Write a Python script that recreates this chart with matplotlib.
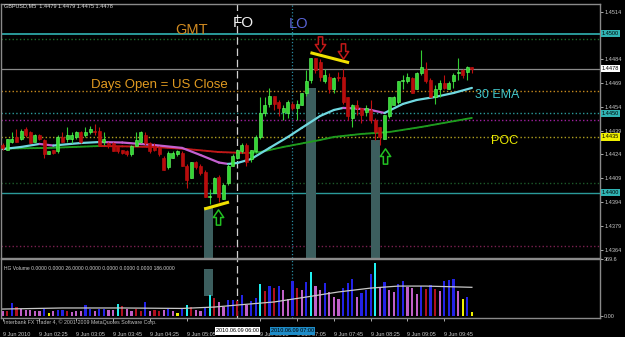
import matplotlib
matplotlib.use("Agg")
import matplotlib.pyplot as plt
from matplotlib.path import Path
from matplotlib.patches import Rectangle
from matplotlib.collections import LineCollection
import numpy as np

# GBPUSD M5, 9 Jun 2010, bars 01:45 .. 10:15
opens = [1.4430, 1.4427, 1.4432, 1.4435, 1.4434, 1.4440, 1.4438, 1.4432, 1.4436, 1.4433,
         1.4424, 1.4427, 1.4426, 1.4435, 1.4434, 1.4434, 1.4435, 1.4438, 1.4436, 1.4438,
         1.4439, 1.4439, 1.4432, 1.4431, 1.4431, 1.4429, 1.4427, 1.4426, 1.4424, 1.4429,
         1.4432, 1.4436, 1.4431, 1.4429, 1.4428, 1.4422, 1.4416, 1.4422, 1.4424, 1.4425,
         1.4417, 1.4409, 1.4419, 1.4417, 1.4413, 1.4397, 1.4400, 1.4410, 1.4396, 1.4406,
         1.4417, 1.4422, 1.4426, 1.4430, 1.4421, 1.4426, 1.4435, 1.4450, 1.4456, 1.4461,
         1.4457, 1.4451, 1.4450, 1.4456, 1.4453, 1.4455, 1.4463, 1.4471, 1.4485, 1.4482,
         1.4470, 1.4473, 1.4465, 1.4473, 1.4473, 1.4460, 1.4447, 1.4455, 1.4453, 1.4451,
         1.4452, 1.4446, 1.4441, 1.4434, 1.4448, 1.4455, 1.4457, 1.4470, 1.4470, 1.4472,
         1.4465, 1.4475, 1.4478, 1.4471, 1.4460, 1.4465, 1.4469, 1.4465, 1.4470, 1.4475,
         1.4477, 1.4476, 1.4479]
highs = [1.4431, 1.4434, 1.4438, 1.4440, 1.4440, 1.4441, 1.4439, 1.4437, 1.4437, 1.4434,
         1.4426, 1.4427, 1.4436, 1.4438, 1.4441, 1.4438, 1.4439, 1.4439, 1.4441, 1.4442,
         1.4443, 1.4441, 1.4438, 1.4432, 1.4432, 1.4429, 1.4427, 1.4427, 1.4430, 1.4438,
         1.4439, 1.4438, 1.4432, 1.4431, 1.4429, 1.4423, 1.4426, 1.4426, 1.4427, 1.4426,
         1.4418, 1.4419, 1.4420, 1.4418, 1.4414, 1.4402, 1.4410, 1.4411, 1.4406, 1.4418,
         1.4424, 1.4427, 1.4431, 1.4431, 1.4427, 1.4436, 1.4460, 1.4460, 1.4466, 1.4461,
         1.4458, 1.4455, 1.4458, 1.4457, 1.4458, 1.4463, 1.4477, 1.4485, 1.4485, 1.4484,
         1.4478, 1.4475, 1.4473, 1.4476, 1.4478, 1.4460, 1.4456, 1.4458, 1.4453, 1.4455,
         1.4458, 1.4447, 1.4441, 1.4449, 1.4460, 1.4461, 1.4470, 1.4474, 1.4475, 1.4473,
         1.4476, 1.4490, 1.4482, 1.4472, 1.4468, 1.4471, 1.4474, 1.4470, 1.4475, 1.4485,
         1.4478, 1.4480, 1.4479]
lows = [1.4427, 1.4427, 1.4431, 1.4432, 1.4433, 1.4435, 1.4431, 1.4432, 1.4433, 1.4422,
        1.4424, 1.4424, 1.4425, 1.4432, 1.4432, 1.4431, 1.4434, 1.4431, 1.4435, 1.4437,
        1.4436, 1.4429, 1.4430, 1.4428, 1.4426, 1.4425, 1.4424, 1.4423, 1.4423, 1.4429,
        1.4431, 1.4430, 1.4425, 1.4426, 1.4423, 1.4414, 1.4415, 1.4422, 1.4423, 1.4417,
        1.4403, 1.4409, 1.4415, 1.4411, 1.4397, 1.4393, 1.4400, 1.4394, 1.4396, 1.4405,
        1.4417, 1.4421, 1.4425, 1.4417, 1.4419, 1.4425, 1.4434, 1.4448, 1.4454, 1.4452,
        1.4448, 1.4446, 1.4447, 1.4452, 1.4446, 1.4455, 1.4461, 1.4469, 1.4475, 1.4470,
        1.4469, 1.4463, 1.4463, 1.4470, 1.4456, 1.4446, 1.4441, 1.4449, 1.4444, 1.4448,
        1.4444, 1.4433, 1.4430, 1.4434, 1.4447, 1.4455, 1.4456, 1.4465, 1.4469, 1.4463,
        1.4465, 1.4474, 1.4469, 1.4460, 1.4456, 1.4460, 1.4465, 1.4465, 1.4466, 1.4471,
        1.4472, 1.4471, 1.4475]
closes = [1.4428, 1.4434, 1.4434, 1.4432, 1.4439, 1.4436, 1.4431, 1.4436, 1.4434, 1.4424,
          1.4426, 1.4425, 1.4435, 1.4432, 1.4436, 1.4436, 1.4438, 1.4432, 1.4438, 1.4440,
          1.4438, 1.4430, 1.4434, 1.4429, 1.4426, 1.4426, 1.4425, 1.4424, 1.4429, 1.4433,
          1.4438, 1.4431, 1.4426, 1.4427, 1.4424, 1.4414, 1.4425, 1.4425, 1.4426, 1.4417,
          1.4408, 1.4419, 1.4416, 1.4412, 1.4397, 1.4398, 1.4409, 1.4397, 1.4405, 1.4417,
          1.4423, 1.4427, 1.4430, 1.4419, 1.4427, 1.4435, 1.4450, 1.4455, 1.4461, 1.4456,
          1.4453, 1.4453, 1.4457, 1.4453, 1.4456, 1.4463, 1.4470, 1.4485, 1.4477, 1.4473,
          1.4474, 1.4465, 1.4472, 1.4472, 1.4457, 1.4448, 1.4455, 1.4453, 1.4449, 1.4453,
          1.4446, 1.4438, 1.4435, 1.4449, 1.4460, 1.4460, 1.4470, 1.4471, 1.4473, 1.4463,
          1.4475, 1.4479, 1.4470, 1.4460, 1.4465, 1.4469, 1.4466, 1.4469, 1.4474, 1.4476,
          1.4474, 1.4479, 1.4478]

# 30 EMA read at some bars (cyan rising / magenta falling)
ema_bars = [0, 4, 8, 11, 17, 21, 26, 33, 39, 43, 47, 49, 51, 54, 58, 62, 65, 69, 72, 74,
            77, 80, 83, 87, 90, 94, 98, 102]
ema_vals = [1.44274, 1.44287, 1.44306, 1.44296, 1.44312, 1.44318, 1.44315, 1.44299, 1.44281,
            1.44236, 1.44189, 1.44180, 1.44186, 1.44211, 1.44281, 1.44350, 1.44407, 1.44482,
            1.44520, 1.44533, 1.44529, 1.44520, 1.44501, 1.44558, 1.44583, 1.44602, 1.44627,
            1.44659]
# slow MA (green rising / red falling)
slow_bars = [0, 10, 21, 26, 33, 40, 47, 53, 56, 61, 69, 72, 78, 84, 91, 102]
slow_vals = [1.44277, 1.44281, 1.44293, 1.44291, 1.44287, 1.44274, 1.44255, 1.44249, 1.44255,
             1.44287, 1.44331, 1.44350, 1.44369, 1.44381, 1.44413, 1.44470]

volumes = [32, 32, 86, 57, 43, 39, 39, 34, 34, 43, 17, 32, 39, 39, 32, 27, 32, 32, 71, 48,
           32, 45, 48, 39, 39, 77, 67, 43, 32, 43, 32, 88, 32, 39, 34, 39, 48, 32, 21, 48,
           71, 57, 39, 32, 57, 136, 115, 88, 60, 104, 106, 99, 136, 71, 99, 115, 207, 164, 195, 180,
           195, 168, 108, 228, 180, 168, 222, 287, 197, 168, 215, 157, 125, 110, 180, 212, 238, 125, 151, 168,
           272, 341, 186, 218, 168, 157, 207, 228, 190, 180, 142, 195, 173, 200, 173, 164, 227, 233, 240, 164,
           110, 125, 26]
vol_kind = list("mrbrmmmmmbymbbrmmmbbmbbmmcrmmrrbmrrmbmybcrmmbcrmmbbr"
                "bmbbcrbrbmmbrmbcmmbmmmbbbmbbbcmbmmbbmmmbrbrmbbbmyby")
vol_ma_bars = [0, 13, 26, 39, 46, 51, 59, 66, 73, 80, 86, 92, 102]
vol_ma_vals = [45, 52, 52, 49, 58, 71, 91, 123, 156, 181, 194, 194, 186]

levels = [1.4500, 1.4497, 1.4478, 1.4464, 1.4450, 1.4446, 1.4435, 1.4406, 1.4400, 1.4366]
level_styles = [("#2a9a9a", "-", 1.4), ("#1d6a2a", ":", 1.0), ("#8a8a8a", "-", 0.9),
                ("#c88a1e", ":", 1.0), ("#2a9a9a", ":", 1.0), ("#a020a0", ":", 1.0),
                ("#b0a020", ":", 1.0), ("#1d5a2a", ":", 1.0), ("#2a9a9a", "-", 1.0),
                ("#7a2050", ":", 1.0)]
# 1.4499 sits under the 1.4500 box, so it is left out
price_ticks = [1.4364, 1.4379, 1.4394, 1.4409, 1.4424, 1.4439, 1.4454, 1.4469, 1.4484, 1.4514]
price_boxes = [("1.4500", "#30b4b4"), ("1.4478", "#ffffff"), ("1.4450", "#30b4b4"),
               ("1.4435", "#f0f000"), ("1.4400", "#30b4b4")]
# 05:45 is fully hidden under the 06:00 box
time_bars = [0, 8, 16, 24, 32, 40, 56, 64, 72, 80, 88, 96]
time_labels = ["9 Jun 2010", "9 Jun 02:25", "9 Jun 03:05", "9 Jun 03:45", "9 Jun 04:25",
               "9 Jun 05:05", "9 Jun 06:25", "9 Jun 07:05", "9 Jun 07:45",
               "9 Jun 08:25", "9 Jun 09:05", "9 Jun 09:45"]

W, H = 625, 337
def fx(x):
    return x / W
def fy(y):
    return 1 - y / H

BG = "black"
lib = "Liberation Sans"
small = 4.0
fig = plt.figure(figsize=(6.25, 3.37), dpi=100, facecolor=BG)
ax = fig.add_axes([fx(1.5), fy(258), fx(600) - fx(1.5), fy(4) - fy(258)], facecolor=BG)
axv = fig.add_axes([fx(1.5), fy(318), fx(600) - fx(1.5), fy(259) - fy(318)], facecolor=BG, sharex=ax)

o = np.array(opens); h = np.array(highs); l = np.array(lows); c = np.array(closes)
idx = np.arange(len(o))
up = c >= o

# shaded zones (behind candles)
for b0, b1, top in [(43.8, 45.7, 1.43909), (65.9, 68.1, 1.44658), (80.1, 82.0, 1.44331)]:
    ax.add_patch(Rectangle((b0, 1.4300), b1 - b0, top - 1.4300, fc="#3c5e5e", ec="none", zorder=1))
axv.add_patch(Rectangle((43.8, 130), 1.9, 175, fc="#3c5e5e", ec="none", zorder=1))

for lv, (col, ls, lw) in zip(levels, level_styles):
    ax.axhline(lv, color=col, ls=ls, lw=lw, zorder=0.5)

for a in (ax, axv):
    a.axvline(51, color="#d0d0d0", ls=(0, (6, 3)), lw=0.9, zorder=0.6)
    a.axvline(63, color="#2a8aa0", ls=":", lw=0.9, zorder=0.6)

# moving averages
def colored_line(a, bars, vals, rise_col, fall_col, lw, ls="-"):
    pts = np.column_stack([bars, vals])
    segs = np.stack([pts[:-1], pts[1:]], axis=1)
    cols = [rise_col if v1 >= v0 else fall_col for v0, v1 in zip(vals[:-1], vals[1:])]
    a.add_collection(LineCollection(segs, colors=cols, linewidths=lw, linestyles=ls, zorder=2,
                                    capstyle="round"))

colored_line(ax, slow_bars, slow_vals, "#1e9a1e", "#c01818", 1.4, (0, (1.2, 0.6)))
colored_line(ax, ema_bars, ema_vals, "#70d8e0", "#c460d0", 1.6)

# candles
cols = np.where(up, "#33d633", "#b80c0c")
ax.vlines(idx, l, h, colors=np.where(up, "#33cc33", "#c01010"), lw=0.8, zorder=3)
body_lo = np.minimum(o, c)
body_h = np.maximum(np.abs(c - o), 0.00003)
ax.bar(idx, body_h, bottom=body_lo, width=0.62, color=cols,
       edgecolor=np.where(up, "#66ff66", "#c81010"), lw=0.4, zorder=4)

# trend lines and arrows
ax.plot([43.8, 49.2], [1.43896, 1.43940], color="#f0e000", lw=2.2, zorder=5, solid_capstyle="butt")
ax.plot([66.9, 75.3], [1.44881, 1.44818], color="#f0e000", lw=2.2, zorder=5, solid_capstyle="butt")
arrow_up = Path([(-0.14, -0.5), (0.14, -0.5), (0.14, 0.0), (0.34, 0.0), (0.0, 0.5),
                 (-0.34, 0.0), (-0.14, 0.0), (-0.14, -0.5)], closed=True)
arrow_dn = Path([(x, -y) for x, y in arrow_up.vertices], closed=True)
ax.plot([46.9, 83.1], [1.43843, 1.44233], ls="none", marker=arrow_up, ms=11,
        mfc="none", mec="#22c022", mew=1.1, zorder=6)
ax.plot([69, 74], [1.44933, 1.44892], ls="none", marker=arrow_dn, ms=11,
        mfc="none", mec="#c01818", mew=1.1, zorder=6)

# volume panel
kind_col = {"b": "#2323e6", "m": "#c060c8", "r": "#b01020", "c": "#20f0f0", "y": "#f0f000"}
axv.bar(idx, volumes, width=0.5, color=[kind_col[k] for k in vol_kind], zorder=3)
axv.plot(vol_ma_bars, vol_ma_vals, color="#c8c8c8", lw=0.9, zorder=4)

ax.set_xlim(-0.26, 129.85)
ax.set_ylim(1.435875, 1.451877)
axv.set_ylim(-13, 369.6)

for a in (ax, axv):
    for s in a.spines.values():
        s.set_color("#8a8a8a")
        s.set_linewidth(1.0)
    a.yaxis.tick_right()
    a.tick_params(axis="y", colors="#c8c8c8", labelsize=small, length=2, pad=1, width=0.6)

ax.set_yticks(price_ticks)
ax.set_yticklabels([f"{t:.4f}" for t in price_ticks], family=lib)
ax.tick_params(axis="x", bottom=False, labelbottom=False)
axv.set_yticks([0, 369.6])
axv.set_yticklabels(["0.00", "369.6"], family=lib)
axv.set_xticks(time_bars)
axv.set_xticklabels(time_labels, ha="left", family=lib)
axv.tick_params(axis="x", colors="#c8c8c8", labelsize=small, length=2, pad=8, width=0.6)

for txt, col in price_boxes:
    ax.text(1.003, float(txt), txt, transform=ax.get_yaxis_transform(), fontsize=small,
            family=lib, color="black", va="center", ha="left", zorder=10, clip_on=False,
            bbox=dict(boxstyle="square,pad=0.2", fc=col, ec="none"))

# vertical line time boxes
for b, txt, col in [(51, "2010.06.09 06:00", "#ffffff"), (63, "2010.06.09 07:00", "#1e8cc8")]:
    axv.text(b, -0.22, txt, transform=axv.get_xaxis_transform(), fontsize=small, family=lib,
             color="black", ha="center", va="center", zorder=10, clip_on=False,
             bbox=dict(boxstyle="square,pad=0.2", fc=col, ec="none"))

# chart texts
fig.text(fx(4), fy(6), "GBPUSD,M5  1.4479 1.4479 1.4475 1.4478", fontsize=small, family=lib,
         color="#e0e0e0", va="center")
fig.text(fx(4), fy(268), "HG Volume 0.0000 0.0000 26.0000 0.0000 0.0000 0.0000 0.0000 186.0000",
         fontsize=3.6, family=lib, color="#d0d0d0", va="center")
fig.text(fx(4), fy(322), "Interbank FX Trader 4, \u00a9 2001-2009 MetaQuotes Software Corp.",
         fontsize=3.8, family=lib, color="#c0c0c0", va="center")
fig.text(fx(192), fy(29.5), "GMT", fontsize=10.5, color="#d08a20", ha="center", va="center", family=lib)
fig.text(fx(243.5), fy(23), "FO", fontsize=11, color="#f0f0f0", ha="center", va="center", family=lib)
fig.text(fx(298.5), fy(24), "LO", fontsize=10.5, color="#5a64d8", ha="center", va="center", family=lib)
fig.text(fx(159), fy(85), "Days Open = US Close", fontsize=9.5, color="#e09a20", ha="center", va="center", family=lib)
fig.text(fx(497), fy(94.5), "30 EMA", fontsize=9, color="#40c4c8", ha="center", va="center", family=lib)
fig.text(fx(505), fy(141.5), "POC", fontsize=9, color="#e8e800", ha="center", va="center", family=lib)

fig.savefig("out.png", dpi=100, facecolor=BG)
